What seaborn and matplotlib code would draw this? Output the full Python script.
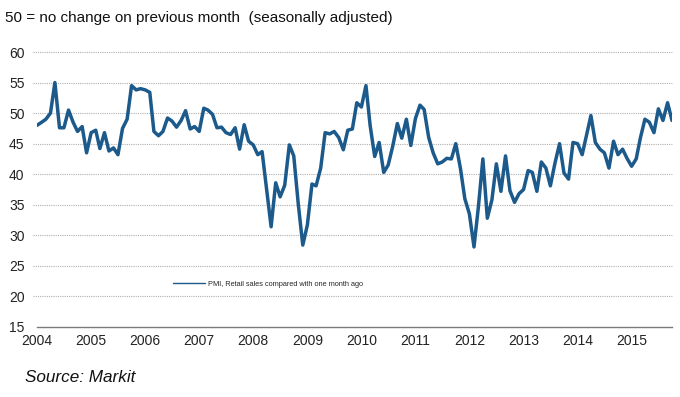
import matplotlib
matplotlib.use("Agg")
import matplotlib.pyplot as plt
import seaborn as sns
import pandas as pd

# ---- data ----
start_month = "2004-01-01"
pmi_values = [
    48.0, 48.5, 49.0, 50.0, 55.0, 47.6, 47.6, 50.5, 48.5, 47.0, 47.8, 43.5,   # 2004
    46.8, 47.2, 44.2, 46.8, 43.8, 44.3, 43.2, 47.5, 49.0, 54.5, 53.8, 54.0,   # 2005
    53.8, 53.4, 47.0, 46.3, 47.0, 49.2, 48.7, 47.7, 48.8, 50.4, 47.4, 47.8,   # 2006
    47.0, 50.8, 50.5, 49.8, 47.6, 47.7, 46.8, 46.5, 47.6, 44.1, 48.1, 45.4,   # 2007
    44.8, 43.2, 43.7, 37.5, 31.4, 38.6, 36.3, 38.2, 44.8, 43.0, 35.0, 28.4,   # 2008
    31.7, 38.4, 38.1, 41.0, 46.8, 46.6, 47.0, 46.0, 44.0, 47.2, 47.4, 51.7,   # 2009
    51.0, 54.5, 48.0, 42.9, 45.2, 40.3, 41.5, 44.6, 48.3, 45.9, 49.0, 44.7,   # 2010
    49.1, 51.3, 50.6, 46.0, 43.5, 41.7, 42.0, 42.6, 42.5, 45.0, 41.0, 36.0,   # 2011
    33.5, 28.1, 34.5, 42.5, 32.8, 35.8, 41.7, 37.2, 43.0, 37.3, 35.4, 36.8,   # 2012
    37.5, 40.6, 40.3, 37.2, 42.0, 41.0, 38.1, 41.8, 45.0, 40.2, 39.2, 45.2,   # 2013
    45.0, 43.2, 46.2, 49.6, 45.2, 44.1, 43.5, 41.0, 45.4, 43.2, 44.1, 42.6,   # 2014
    41.3, 42.5, 45.9, 49.0, 48.5, 46.8, 50.7, 48.8, 51.7, 48.8,               # 2015
]
series_label = "PMI, Retail sales compared with one month ago"
year_labels = [str(y) for y in range(2004, 2016)]
y_ticks = [15, 20, 25, 30, 35, 40, 45, 50, 55, 60]
title_text = "50 = no change on previous month  (seasonally adjusted)"
source_text = "Source: Markit"

dates = pd.date_range(start_month, periods=len(pmi_values), freq="MS")
df = pd.DataFrame({"date": dates, "value": pmi_values, "series": series_label})

# ---- style ----
sns.set_style("white")
plt.rcParams["font.family"] = ["Liberation Sans", "DejaVu Sans"]

W, H = 680, 397
fig = plt.figure(figsize=(W / 100, H / 100), dpi=100)
left, right, top, bottom = 37, 672, 52, 327
ax = fig.add_axes([left / W, 1 - bottom / H, (right - left) / W, (bottom - top) / H])

line_color = "#1c5a8c"
sns.lineplot(data=df, x="date", y="value", hue="series", palette=[line_color],
             linewidth=2.5, ax=ax, legend=True)

ax.set_ylim(15, 60)
ax.set_xlim(pd.Timestamp("2004-01-01"), pd.Timestamp("2015-10-01"))
ax.set_yticks(y_ticks)
ax.set_yticklabels([str(v) for v in y_ticks])
year_pos = [pd.Timestamp(f"{y}-01-01") for y in year_labels]
ax.set_xticks(year_pos)
ax.set_xticklabels(year_labels)
ax.set_xlabel("")
ax.set_ylabel("")

for v in y_ticks[1:]:
    ax.axhline(v, xmin=-4 / (right - left), color="#b0b0b0", linestyle=(0, (1, 1)),
               linewidth=0.8, zorder=0, clip_on=False)

for s in ["top", "right", "left"]:
    ax.spines[s].set_visible(False)
ax.spines["bottom"].set_color("#7a7a7a")
ax.spines["bottom"].set_linewidth(1.0)

ax.tick_params(axis="y", length=0, pad=9, labelsize=10, labelcolor="#222222")
ax.tick_params(axis="x", direction="inout", length=6, width=1.0, color="#7a7a7a",
               pad=2, labelsize=10, labelcolor="#222222")

leg = ax.legend(loc="center left", bbox_to_anchor=(173 / W, 1 - 284 / H),
                bbox_transform=fig.transFigure, frameon=False, fontsize=5.3,
                handlelength=4.4, handletextpad=0.3, borderpad=0, borderaxespad=0)
for h in leg.get_lines():
    h.set_linewidth(1.0)

fig.text(5 / W, 1 - 18 / H, title_text, fontsize=11, color="#111111",
         ha="left", va="center")
fig.text(25 / W, 1 - 378 / H, source_text, fontsize=12.3, style="italic",
         color="#111111", ha="left", va="center")

fig.savefig("out.png", dpi=100)
